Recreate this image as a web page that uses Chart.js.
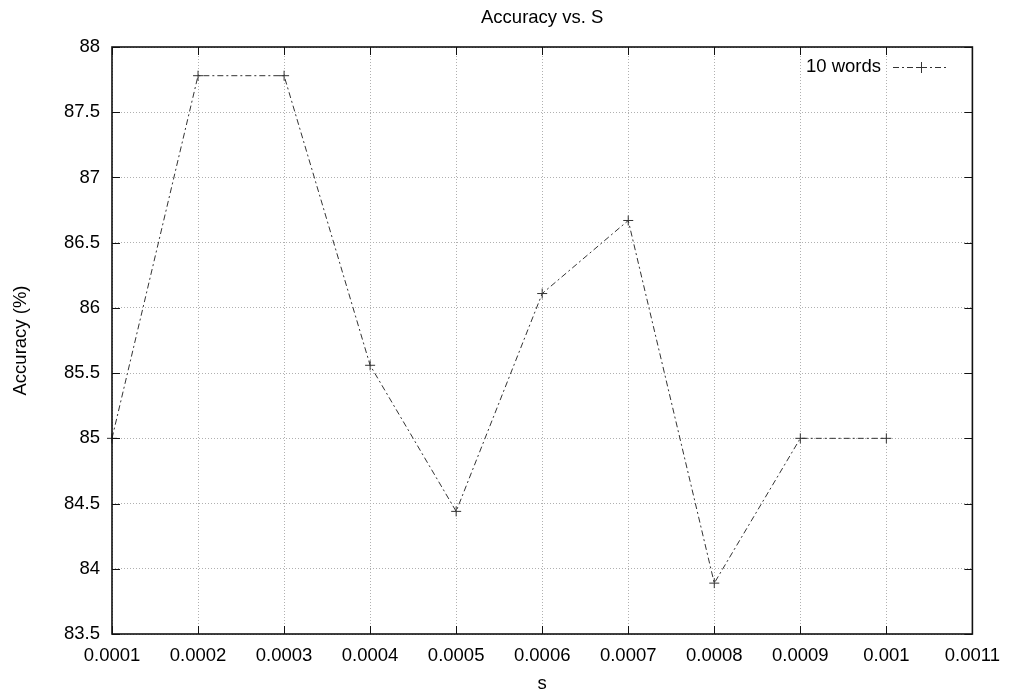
<!DOCTYPE html>
<html>
<head>
<meta charset="utf-8">
<script src="https://cdn.jsdelivr.net/npm/chart.js@4.4.0/dist/chart.umd.min.js"></script>
<style>
html, body { margin: 0; padding: 0; background: #fff; }
</style>
</head>
<body>
<canvas id="myChart" width="1011" height="696"></canvas>
<script>
// data
const sValues = [0.0001, 0.0002, 0.0003, 0.0004, 0.0005, 0.0006, 0.0007, 0.0008, 0.0009, 0.001]
const accuracy = [85, 87.78, 87.78, 85.56, 84.44, 86.11, 86.67, 83.89, 85, 85]
const xTicks = [0.0001, 0.0002, 0.0003, 0.0004, 0.0005, 0.0006, 0.0007, 0.0008, 0.0009, 0.001, 0.0011]
const yTicks = [83.5, 84, 84.5, 85, 85.5, 86, 86.5, 87, 87.5, 88]
const chartTitle = 'Accuracy vs. S'

const fontFamily = '"Liberation Sans", Arial, sans-serif'
const fontSize = 18.5
const lineColor = '#333'

// gnuplot style title, frame, inward ticks on all four sides, and the key
const gnuplotFrame = {
    id: 'gnuplotFrame',
    afterDatasetsDraw(chart) {
        const ctx = chart.ctx
        const area = chart.chartArea
        const xs = chart.scales.x
        const ys = chart.scales.y
        const tick = 8
        ctx.save()
        ctx.strokeStyle = '#111'
        ctx.lineWidth = 1
        ctx.beginPath()
        xTicks.forEach(v => {
            const px = Math.round(xs.getPixelForValue(v)) + 0.5
            ctx.moveTo(px, area.bottom); ctx.lineTo(px, area.bottom - tick)
            ctx.moveTo(px, area.top); ctx.lineTo(px, area.top + tick)
        })
        yTicks.forEach(v => {
            const py = Math.round(ys.getPixelForValue(v)) + 0.5
            ctx.moveTo(area.left, py); ctx.lineTo(area.left + tick, py)
            ctx.moveTo(area.right, py); ctx.lineTo(area.right - tick, py)
        })
        ctx.stroke()
        ctx.lineWidth = 1.6
        ctx.strokeRect(area.left, area.top, area.right - area.left, area.bottom - area.top)
        ctx.restore()
    },
    afterDraw(chart) {
        const ctx = chart.ctx
        const area = chart.chartArea
        const ds = chart.data.datasets[0]
        ctx.save()
        ctx.font = fontSize + 'px ' + fontFamily
        ctx.fillStyle = '#000'
        ctx.textAlign = 'center'
        ctx.textBaseline = 'middle'
        ctx.fillText(chartTitle, (area.left + area.right) / 2, 18)

        const textRight = 881
        const keyY = 67
        ctx.textAlign = 'right'
        ctx.fillText(ds.label, textRight, keyY)
        ctx.strokeStyle = lineColor
        ctx.lineWidth = 1
        ctx.setLineDash(ds.borderDash)
        ctx.beginPath()
        ctx.moveTo(893, keyY + 0.5); ctx.lineTo(947, keyY + 0.5)
        ctx.stroke()
        ctx.setLineDash([])
        ctx.beginPath()
        ctx.moveTo(916, keyY + 0.5); ctx.lineTo(927, keyY + 0.5)
        ctx.moveTo(921.5, keyY - 5); ctx.lineTo(921.5, keyY + 6)
        ctx.stroke()
        ctx.restore()
    }
}

const config = {
    type: 'line',
    data: {
        datasets: [{
            label: '10 words',
            data: sValues.map((s, i) => ({ x: s, y: accuracy[i] })),
            borderColor: lineColor,
            borderWidth: 1,
            borderDash: [6, 3, 2, 3],
            pointStyle: 'cross',
            pointRadius: 5,
            pointBorderWidth: 1,
            pointBorderColor: lineColor,
            pointBackgroundColor: lineColor,
            tension: 0,
            clip: false,
            fill: false
        }]
    },
    options: {
        responsive: false,
        animation: false,
        events: [],
        layout: { padding: { left: 0, right: 37, top: 47, bottom: 0 } },
        plugins: {
            legend: { display: false },
            tooltip: { enabled: false },
            title: { display: false }
        },
        scales: {
            x: {
                type: 'linear',
                min: 0.0001,
                max: 0.0011,
                afterBuildTicks: scale => { scale.ticks = xTicks.map(v => ({ value: v })) },
                afterFit: scale => { scale.height = 62 },
                border: { display: false, dash: [1, 2] },
                grid: { color: '#b0b0b0', drawTicks: false, lineWidth: 1 },
                ticks: {
                    padding: 11,
                    color: '#000',
                    maxRotation: 0,
                    autoSkip: false,
                    font: { family: fontFamily, size: fontSize },
                    callback: v => String(Number(v.toFixed(4)))
                },
                title: {
                    display: true,
                    text: 's',
                    color: '#000',
                    font: { family: fontFamily, size: fontSize },
                    padding: { top: 0, bottom: 1 }
                }
            },
            y: {
                type: 'linear',
                min: 83.5,
                max: 88,
                afterBuildTicks: scale => { scale.ticks = yTicks.map(v => ({ value: v })) },
                afterFit: scale => { scale.width = 112 },
                border: { display: false, dash: [1, 2] },
                grid: { color: '#b0b0b0', drawTicks: false, lineWidth: 1 },
                ticks: {
                    padding: 12,
                    color: '#000',
                    autoSkip: false,
                    font: { family: fontFamily, size: fontSize },
                    callback: v => String(v)
                },
                title: {
                    display: true,
                    text: 'Accuracy (%)',
                    color: '#000',
                    font: { family: fontFamily, size: fontSize },
                    padding: { top: 10, bottom: 0 }
                }
            }
        }
    },
    plugins: [gnuplotFrame]
}

const myChart = new Chart(document.getElementById('myChart'), config)
</script>
</body>
</html>
